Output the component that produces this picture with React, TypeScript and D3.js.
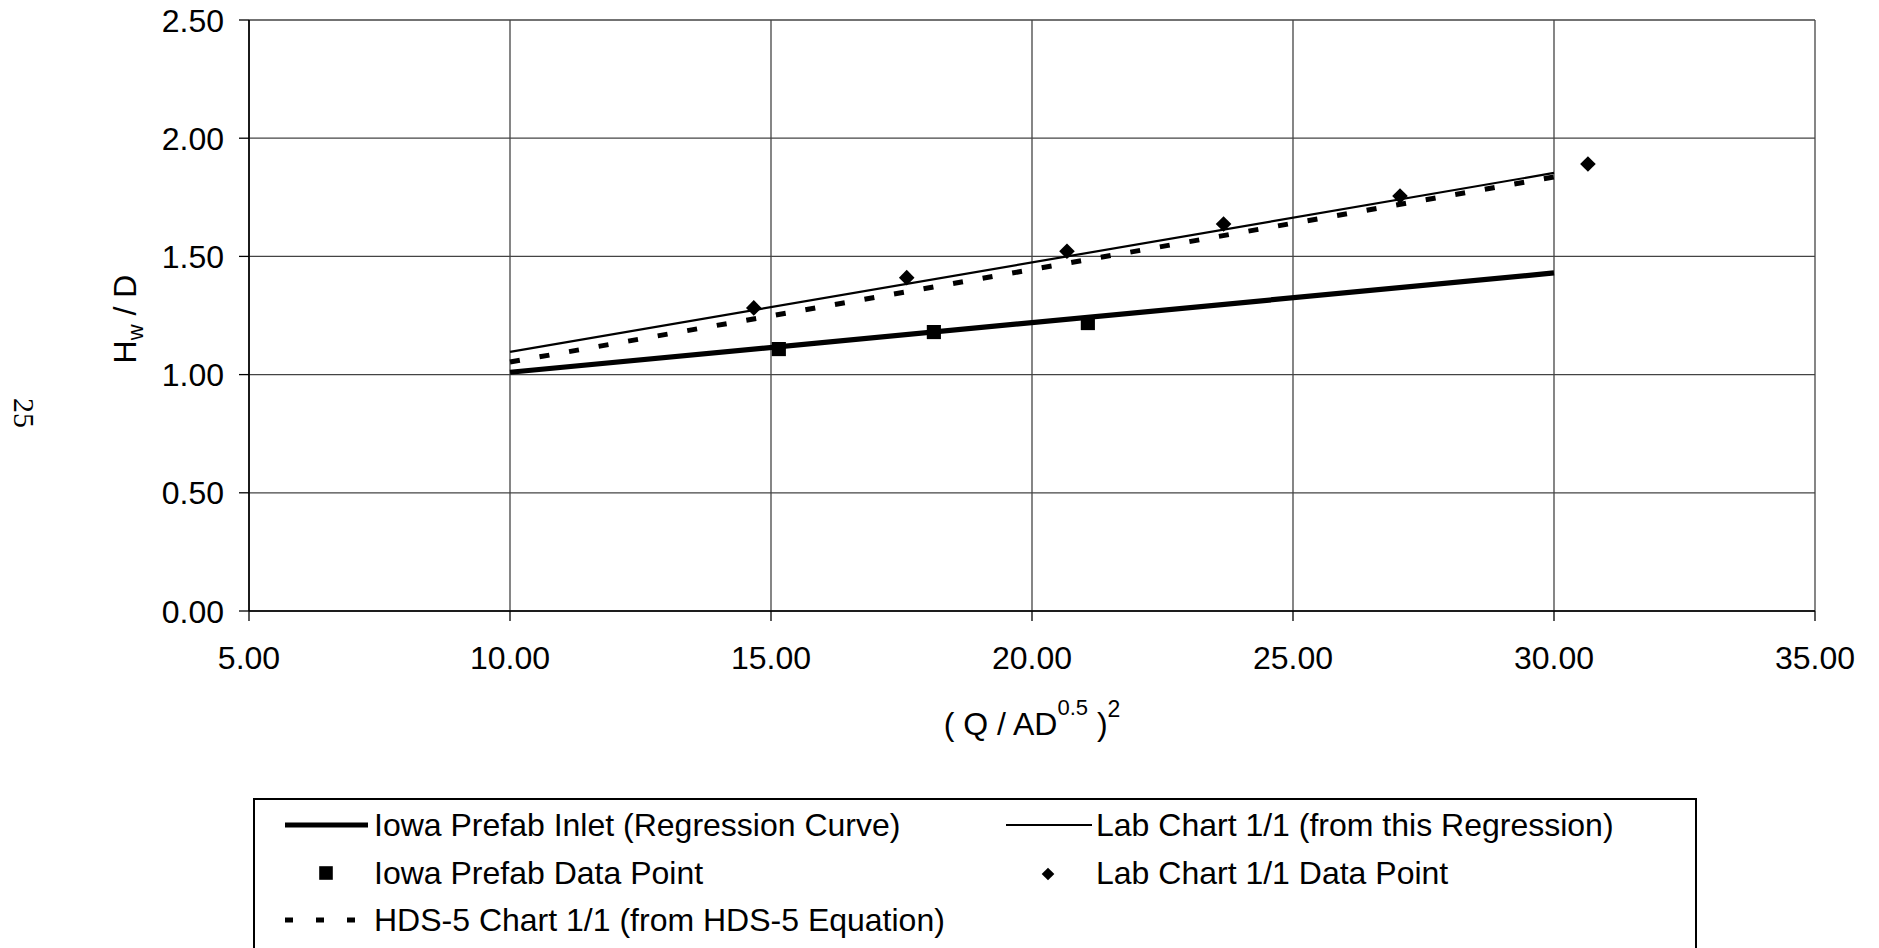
import React from "react";
import * as d3 from "d3";

// Axis ticks
const xTicks = [5, 10, 15, 20, 25, 30, 35];
const yTicks = [0, 0.5, 1.0, 1.5, 2.0, 2.5];

// Regression / equation curves (end points)
const iowaCurveX = [10, 30];
const iowaCurveY = [1.01, 1.43];
const labCurveX = [10, 30];
const labCurveY = [1.096, 1.853];
const hdsCurveX = [10, 30];
const hdsCurveY = [1.053, 1.836];

// Measured data points
const iowaPointX = [15.15, 18.12, 21.07];
const iowaPointY = [1.108, 1.18, 1.218];
const labPointX = [14.67, 17.6, 20.67, 23.67, 27.05, 30.65];
const labPointY = [1.282, 1.41, 1.522, 1.637, 1.755, 1.891];

const W = 1879;
const H = 948;
const FONT = "'Liberation Sans', Arial, Helvetica, sans-serif";

const x = d3.scaleLinear().domain([5, 35]).range([249, 1815]);
const y = d3.scaleLinear().domain([0, 2.5]).range([611, 20]);

const toPts = (xs: number[], ys: number[]) => xs.map((v, i) => [v, ys[i]] as [number, number]);

const line = d3
  .line<[number, number]>()
  .x((d) => x(d[0]))
  .y((d) => y(d[1]));

const squarePath = d3.symbol().type(d3.symbolSquare).size(200)() as string;
const diamondPath = d3.symbol().type(d3.symbolSquare).size(122)() as string;
const legendSquare = d3.symbol().type(d3.symbolSquare).size(185)() as string;
const legendDiamond = d3.symbol().type(d3.symbolSquare).size(80)() as string;

export default function App() {
  const gridColor = "#444";
  return (
    <svg
      width={W}
      height={H}
      viewBox={`0 0 ${W} ${H}`}
      style={{ position: "absolute", left: 0, top: 0, background: "#fff" }}
      fontFamily={FONT}
    >
      <rect x={0} y={0} width={W} height={H} fill="#fff" />

      {/* page number */}
      <text
        x={14}
        y={413}
        fontFamily="'Liberation Serif', 'Times New Roman', serif"
        fontSize={30}
        textAnchor="middle"
        transform="rotate(90 14 413)"
        fill="#000"
      >
        25
      </text>

      {/* grid */}
      {yTicks.map((t) => (
        <line key={"gy" + t} x1={x(5)} x2={x(35)} y1={y(t)} y2={y(t)} stroke={gridColor} strokeWidth={1.3} />
      ))}
      {xTicks.map((t) => (
        <line key={"gx" + t} x1={x(t)} x2={x(t)} y1={y(0)} y2={y(2.5)} stroke={gridColor} strokeWidth={1.3} />
      ))}

      {/* axes */}
      <line x1={x(5)} x2={x(5)} y1={y(0)} y2={y(2.5)} stroke="#000" strokeWidth={1.6} />
      <line x1={x(5)} x2={x(35)} y1={y(0)} y2={y(0)} stroke="#000" strokeWidth={1.6} />
      {yTicks.map((t) => (
        <line key={"ty" + t} x1={x(5) - 10} x2={x(5)} y1={y(t)} y2={y(t)} stroke="#000" strokeWidth={1.3} />
      ))}
      {xTicks.map((t) => (
        <line key={"tx" + t} x1={x(t)} x2={x(t)} y1={y(0)} y2={y(0) + 10} stroke="#000" strokeWidth={1.3} />
      ))}

      {/* tick labels */}
      {yTicks.map((t) => (
        <text key={"ly" + t} x={224} y={y(t) + 11.5} fontSize={32} textAnchor="end" fill="#000">
          {t.toFixed(2)}
        </text>
      ))}
      {xTicks.map((t) => (
        <text key={"lx" + t} x={x(t)} y={669} fontSize={32} textAnchor="middle" fill="#000">
          {t.toFixed(2)}
        </text>
      ))}

      {/* axis titles */}
      <text x={136} y={319} fontSize={32} textAnchor="middle" transform="rotate(-90 136 319)" fill="#000">
        H
        <tspan fontSize={22} dy={7}>w</tspan>
        <tspan dy={-7}> / D</tspan>
      </text>
      <text x={1032} y={735} fontSize={32} textAnchor="middle" fill="#000">
        ( Q / AD
        <tspan fontSize={22} dy={-20}>0.5</tspan>
        <tspan dy={20}> )</tspan>
        <tspan fontSize={23} dy={-18}>2</tspan>
      </text>

      {/* curves */}
      <path d={line(toPts(hdsCurveX, hdsCurveY)) as string} fill="none" stroke="#000" strokeWidth={5} strokeDasharray="10 20" />
      <path d={line(toPts(labCurveX, labCurveY)) as string} fill="none" stroke="#000" strokeWidth={2.2} />
      <path d={line(toPts(iowaCurveX, iowaCurveY)) as string} fill="none" stroke="#000" strokeWidth={5.2} />

      {/* data points */}
      {toPts(iowaPointX, iowaPointY).map((p, i) => (
        <path key={"sq" + i} d={squarePath} transform={`translate(${x(p[0])},${y(p[1])})`} fill="#000" />
      ))}
      {toPts(labPointX, labPointY).map((p, i) => (
        <path key={"dm" + i} d={diamondPath} transform={`translate(${x(p[0])},${y(p[1])}) rotate(45)`} fill="#000" />
      ))}

      {/* legend */}
      <rect x={254} y={799} width={1442} height={170} fill="#fff" stroke="#000" strokeWidth={2} />
      <line x1={285} x2={368} y1={825} y2={825} stroke="#000" strokeWidth={5} />
      <text x={374} y={836} fontSize={32} fill="#000">Iowa Prefab Inlet (Regression Curve)</text>
      <path d={legendSquare} transform="translate(326,873)" fill="#000" />
      <text x={374} y={884} fontSize={32} fill="#000">Iowa Prefab Data Point</text>
      <line x1={285} x2={357} y1={920} y2={920} stroke="#000" strokeWidth={5} strokeDasharray="8 23" />
      <text x={374} y={931} fontSize={32} fill="#000">HDS-5 Chart 1/1 (from HDS-5 Equation)</text>

      <line x1={1006} x2={1092} y1={825} y2={825} stroke="#000" strokeWidth={2} />
      <text x={1096} y={836} fontSize={32} fill="#000">Lab Chart 1/1 (from this Regression)</text>
      <path d={legendDiamond} transform="translate(1048,874) rotate(45)" fill="#000" />
      <text x={1096} y={884} fontSize={32} fill="#000">Lab Chart 1/1 Data Point</text>
    </svg>
  );
}
